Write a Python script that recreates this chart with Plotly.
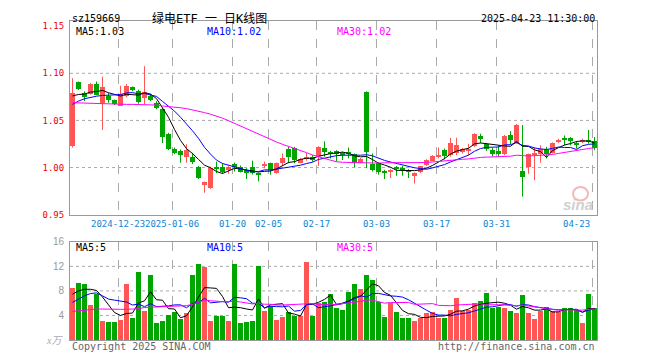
import plotly.graph_objects as go

# ---------------- data ----------------
symbol = "sz159669"
title_text = "绿电ETF 一 日K线图"
timestamp = "2025-04-23 11:30:00"

date_labels = ["2024-12-23", "2025-01-06", "01-20", "02-05", "02-17",
               "03-03", "03-17", "03-31", "04-23"]
date_label_idx = [8, 17, 27, 33, 41, 51, 61, 71, 87]

price_ticks = [0.95, 1.00, 1.05, 1.10, 1.15]
price_tick_text = ["0.95", "1.00", "1.05", "1.10", "1.15"]
price_grid = [1.00, 1.05, 1.10]
vol_ticks = [4, 8, 12, 16]
vol_tick_text = ["4", "8", "12", "16"]
vol_grid = [4, 8, 12]

ma_price_labels = ["MA5:1.03", "MA10:1.02", "MA30:1.02"]
ma_vol_labels = ["MA5:5", "MA10:5", "MA30:5"]

opens = [1.0226, 1.0906, 1.0792, 1.0781, 1.0885, 1.0688, 1.0757, 1.0712, 1.0653, 1.0757,
         1.0851, 1.0816, 1.0740, 1.0757, 1.0688, 1.0618, 1.0358, 1.0201, 1.0177, 1.0115,
         1.0115, 1.0010, 0.9819, 0.9785, 1.0010, 1.0003, 0.9976, 1.0038, 1.0010, 0.9969,
         1.0010, 0.9941, 1.0017, 1.0045, 0.9941, 1.0045, 1.0201, 1.0212, 1.0052, 1.0087,
         1.0108, 1.0122, 1.0212, 1.0167, 1.0177, 1.0156, 1.0153, 1.0139, 1.0052, 1.0802,
         1.0035, 1.0045, 0.9965, 0.9955, 1.0010, 0.9993, 0.9976, 0.9913, 0.9948, 1.0028,
         1.0073, 1.0122, 1.0184, 1.0132, 1.0156, 1.0167, 1.0184, 1.0226, 1.0340, 1.0253,
         1.0184, 1.0177, 1.0149, 1.0347, 1.0260, 0.9965, 1.0003, 1.0142, 1.0149, 1.0201,
         1.0156, 1.0271, 1.0302, 1.0316, 1.0260, 1.0281, 1.0295, 1.0281]
highs = [1.0948, 1.0913, 1.0809, 1.0896, 1.0913, 1.0965, 1.0792, 1.0722, 1.0868, 1.0885,
         1.0861, 1.0826, 1.1076, 1.0781, 1.0705, 1.0635, 1.0368, 1.0212, 1.0191, 1.0247,
         1.0156, 1.0017, 0.9851, 1.0010, 1.0063, 1.0045, 1.0017, 1.0052, 1.0021, 0.9993,
         1.0073, 0.9948, 1.0063, 1.0052, 1.0052, 1.0149, 1.0219, 1.0219, 1.0101, 1.0156,
         1.0132, 1.0226, 1.0278, 1.0177, 1.0184, 1.0167, 1.0212, 1.0149, 1.0101, 1.0809,
         1.0149, 1.0052, 0.9976, 0.9983, 1.0017, 1.0017, 0.9983, 0.9948, 1.0017, 1.0087,
         1.0132, 1.0212, 1.0201, 1.0316, 1.0316, 1.0208, 1.0253, 1.0365, 1.0358, 1.0260,
         1.0208, 1.0236, 1.0347, 1.0385, 1.0462, 1.0451, 1.0149, 1.0212, 1.0236, 1.0219,
         1.0267, 1.0306, 1.0340, 1.0323, 1.0281, 1.0306, 1.0399, 1.0323]
lows = [1.0212, 1.0823, 1.0705, 1.0774, 1.0767, 1.0399, 1.0688, 1.0663, 1.0653, 1.0747,
        1.0809, 1.0677, 1.0670, 1.0705, 1.0618, 1.0260, 1.0184, 1.0142, 1.0052, 1.0052,
        1.0038, 0.9878, 0.9733, 0.9774, 0.9941, 0.9934, 0.9934, 0.9958, 0.9948, 0.9878,
        0.9924, 0.9854, 0.9993, 0.9924, 0.9934, 1.0017, 1.0045, 1.0045, 1.0045, 1.0073,
        1.0063, 1.0017, 1.0115, 1.0097, 1.0063, 1.0080, 1.0097, 1.0003, 1.0045, 0.9993,
        0.9958, 0.9924, 0.9878, 0.9889, 0.9913, 0.9913, 0.9889, 0.9830, 0.9941, 1.0017,
        1.0073, 1.0097, 1.0087, 1.0115, 1.0132, 1.0149, 1.0132, 1.0219, 1.0260, 1.0177,
        1.0115, 1.0115, 1.0132, 1.0247, 1.0253, 0.9691, 0.9934, 0.9865, 1.0052, 1.0097,
        1.0149, 1.0260, 1.0236, 1.0236, 1.0201, 1.0260, 1.0253, 1.0184]
closes = [1.0792, 1.0833, 1.0747, 1.0885, 1.0774, 1.0851, 1.0712, 1.0677, 1.0781, 1.0868,
          1.0823, 1.0694, 1.0802, 1.0712, 1.0628, 1.0323, 1.0201, 1.0156, 1.0132, 1.0191,
          1.0063, 0.9889, 0.9851, 0.9993, 0.9993, 0.9958, 1.0010, 1.0003, 0.9958, 0.9941,
          0.9941, 0.9924, 1.0035, 0.9976, 1.0052, 1.0097, 1.0108, 1.0080, 1.0094, 1.0115,
          1.0087, 1.0219, 1.0170, 1.0149, 1.0142, 1.0142, 1.0146, 1.0045, 1.0094, 1.0160,
          0.9976, 0.9958, 0.9948, 0.9976, 0.9993, 0.9976, 0.9951, 0.9941, 1.0017, 1.0080,
          1.0122, 1.0132, 1.0122, 1.0260, 1.0236, 1.0201, 1.0201, 1.0358, 1.0306, 1.0201,
          1.0149, 1.0149, 1.0340, 1.0288, 1.0455, 0.9899, 1.0139, 1.0156, 1.0201, 1.0142,
          1.0260, 1.0295, 1.0295, 1.0281, 1.0250, 1.0295, 1.0281, 1.0212]
volumes = [8.53, 9.33, 9.17, 5.76, 7.57, 3.20, 2.93, 2.93, 3.36, 9.17,
           3.57, 11.04, 4.80, 10.61, 2.77, 3.20, 4.16, 4.53, 3.47, 4.37,
           10.61, 12.37, 11.89, 3.20, 4.00, 4.00, 3.20, 12.37, 2.77, 2.93,
           3.20, 12.16, 4.80, 5.60, 3.36, 3.73, 4.53, 3.89, 4.00, 12.80,
           3.89, 6.13, 6.29, 7.50, 5.17, 4.96, 7.84, 9.17, 8.37, 10.61,
           9.81, 6.24, 3.73, 6.03, 4.53, 3.57, 3.57, 3.20, 3.57, 4.37,
           4.53, 3.57, 3.57, 4.96, 6.88, 4.80, 4.96, 6.13, 6.40, 7.68,
           5.17, 5.44, 5.28, 4.80, 4.37, 7.41, 4.37, 3.41, 4.80, 5.44,
           4.80, 4.53, 5.17, 5.17, 4.96, 2.77, 7.57, 5.17]

# moving-average values before each window is complete
ma5_head = [1.0760, 1.0775, 1.0780, 1.0800]
ma10_head = [1.0670, 1.0705, 1.0730, 1.0745, 1.0757, 1.0765, 1.0770, 1.0774, 1.0774]
ma30_head = [1.0688, 1.0686, 1.0684, 1.0681, 1.0678, 1.0675, 1.0670, 1.0670, 1.0670, 1.0670,
             1.0670, 1.0670, 1.0670, 1.0668, 1.0663, 1.0653, 1.0648, 1.0642, 1.0634, 1.0625,
             1.0613, 1.0601, 1.0583, 1.0566, 1.0549, 1.0524, 1.0497, 1.0469, 1.0441]
vma5_head = [7.47, 8.00, 8.27, 8.27]
vma10_head = [6.13, 6.67, 7.20, 7.57, 7.68, 7.20, 6.67, 6.50, 6.40]
vma30_head = [4.64, 4.75, 4.85, 4.95, 5.05, 5.05, 5.00, 5.00, 5.00, 5.00,
              5.00, 5.10, 5.30, 5.35, 5.40, 5.40, 5.45, 5.45, 5.50, 5.60,
              5.80, 6.20, 6.50, 6.40, 6.30, 6.25, 6.25, 6.30, 6.20]

# ---------------- helpers ----------------
def moving_avg(vals, n, head):
    out = []
    for i in range(len(vals)):
        if i < n - 1:
            out.append(head[i])
        else:
            out.append(sum(vals[i - n + 1:i + 1]) / n)
    return out

# the page body has an 8px margin: work in screen pixels, convert to figure pixels
OFF = 8
W, H = 660 - OFF, 360 - OFF
L, R, T, B = 70 - OFF, 597 - OFF, 15 - OFF, 340 - OFF
def px(x):
    return (x - OFF - L) / (R - L)
def py(y):
    return (B - (y - OFF)) / (B - T)

RED = "#ff5555"
GREEN = "#00a600"
MA_COLORS = ["#000000", "#0000ff", "#ff00ff"]
MONO = "DejaVu Sans Mono, Noto Sans CJK SC"

n = len(closes)
idx = list(range(n))
up = [closes[i] >= opens[i] for i in idx]

fig = go.Figure()

# wicks
for flag, col in [(True, RED), (False, GREEN)]:
    wx, wy = [], []
    for i in idx:
        if up[i] == flag:
            wx += [i, i, None]
            wy += [lows[i], highs[i], None]
    fig.add_trace(go.Scatter(x=wx, y=wy, mode="lines", line=dict(color=col, width=1),
                             xaxis="x", yaxis="y", hoverinfo="skip"))

# bodies
MINH = 0.0011
for flag, col in [(True, RED), (False, GREEN)]:
    bx, bb, bh = [], [], []
    for i in idx:
        if up[i] == flag:
            lo = min(opens[i], closes[i])
            hi = max(opens[i], closes[i])
            h = hi - lo
            if h < MINH:
                lo = (lo + hi) / 2 - MINH / 2
                h = MINH
            bx.append(i); bb.append(lo); bh.append(h)
    fig.add_trace(go.Bar(x=bx, y=bh, base=bb, width=0.84, marker=dict(color=col, line=dict(width=0)),
                         xaxis="x", yaxis="y"))

# price MAs
for vals, col in zip([moving_avg(closes, 5, ma5_head), moving_avg(closes, 10, ma10_head),
                      moving_avg(closes, 30, ma30_head)], MA_COLORS):
    fig.add_trace(go.Scatter(x=idx, y=vals, mode="lines", line=dict(color=col, width=1),
                             xaxis="x", yaxis="y"))

# volume bars
for flag, col in [(True, RED), (False, GREEN)]:
    vx = [i for i in idx if up[i] == flag]
    vy = [volumes[i] for i in vx]
    fig.add_trace(go.Bar(x=vx, y=vy, width=0.84, marker=dict(color=col, line=dict(width=0)),
                         xaxis="x2", yaxis="y2"))

for vals, col in zip([moving_avg(volumes, 5, vma5_head), moving_avg(volumes, 10, vma10_head),
                      moving_avg(volumes, 30, vma30_head)], MA_COLORS):
    fig.add_trace(go.Scatter(x=idx, y=vals, mode="lines", line=dict(color=col, width=1),
                             xaxis="x2", yaxis="y2"))

grid_x = [i - 0.35 for i in date_label_idx]
xr = [-0.4167, n - 1 + 0.4167]

shapes = []
for g in price_grid:
    shapes.append(dict(type="line", xref="x domain", yref="y", x0=0, x1=1, y0=g, y1=g,
                       line=dict(color="#aaaaaa", width=1, dash="dot"), layer="below"))
for g in vol_grid:
    shapes.append(dict(type="line", xref="x2 domain", yref="y2", x0=0, x1=1, y0=g, y1=g,
                       line=dict(color="#aaaaaa", width=1, dash="dot"), layer="below"))
# sina watermark circle
shapes.append(dict(type="circle", xref="paper", yref="paper",
                   x0=px(573), x1=px(588), y0=py(198), y1=py(184),
                   line=dict(color="#f2b9b9", width=2), layer="below"))

annotations = []
def txt(x, y, s, color="#000", size=10, anchor="left", family=MONO, **kw):
    annotations.append(dict(x=px(x), y=py(y), xref="paper", yref="paper", text=s,
                            showarrow=False, xanchor=anchor, yanchor="middle",
                            font=dict(color=color, size=size, family=family, **kw)))

txt(70, 12.5, symbol, size=10)
txt(209, 12.5, title_text, size=12, anchor="center")
txt(597, 12.5, timestamp, size=10, anchor="right")
for s, x, c in zip(ma_price_labels, [74, 205, 335], MA_COLORS):
    txt(x, 26, s, color=c, size=10)
for s, x, c in zip(ma_vol_labels, [74, 205, 335], MA_COLORS):
    txt(x, 245.5, s, color=c, size=10)
for lab, gx, k in zip(date_labels, grid_x, range(len(date_labels))):
    xpix = 72.5 + 6 * gx
    txt(xpix, 222, lab, color="#0a86d8", size=9,
        anchor="right" if k == len(date_labels) - 1 else "center")
txt(70, 346.5, "Copyright 2025 SINA.COM", color="#666666", size=10)
txt(597, 346.5, "http://finance.sina.com.cn", color="#666666", size=10, anchor="right")
txt(65, 341, "x万", color="#aaaaaa", size=10, anchor="right",
    family="Liberation Serif, Noto Sans CJK SC", style="italic")
txt(595, 202, "sina", color="#d0d0d0", size=15, anchor="right",
    family="Liberation Sans", style="italic", weight="bold")

fig.update_layout(
    width=W, height=H,
    margin=dict(l=L, r=W - R, t=T, b=H - B),
    paper_bgcolor="white", plot_bgcolor="white",
    showlegend=False, barmode="overlay", bargap=0,
    font=dict(family=MONO),
    xaxis=dict(domain=[0, 1], anchor="y", range=xr, tickvals=grid_x, showticklabels=False,
               ticks="", showgrid=True, griddash="dash", gridcolor="#aaaaaa", gridwidth=1,
               showline=True, mirror=True, linecolor="#999999", linewidth=1, zeroline=False,
               fixedrange=True),
    yaxis=dict(domain=[py(212.3), 1], anchor="x", range=[0.95, 1.1555],
               tickvals=price_ticks, ticktext=price_tick_text, ticks="",
               tickfont=dict(color="#ee0000", size=9, family=MONO), ticklabelstandoff=3,
               showgrid=False, showline=True, mirror=True, linecolor="#999999", linewidth=1,
               zeroline=False),
    xaxis2=dict(domain=[0, 1], anchor="y2", range=xr, tickvals=grid_x, showticklabels=False,
                ticks="", showgrid=True, griddash="dash", gridcolor="#aaaaaa", gridwidth=1,
                showline=True, mirror=True, linecolor="#999999", linewidth=1, zeroline=False),
    yaxis2=dict(domain=[0, py(240)], anchor="x2", range=[0, 16],
                tickvals=vol_ticks, ticktext=vol_tick_text, ticks="",
                tickfont=dict(color="#999999", size=10, family="Liberation Sans"),
                ticklabelstandoff=3, showgrid=False, showline=True, mirror=True,
                linecolor="#999999", linewidth=1, zeroline=False),
    shapes=shapes, annotations=annotations,
)

fig.write_html("out.html")
